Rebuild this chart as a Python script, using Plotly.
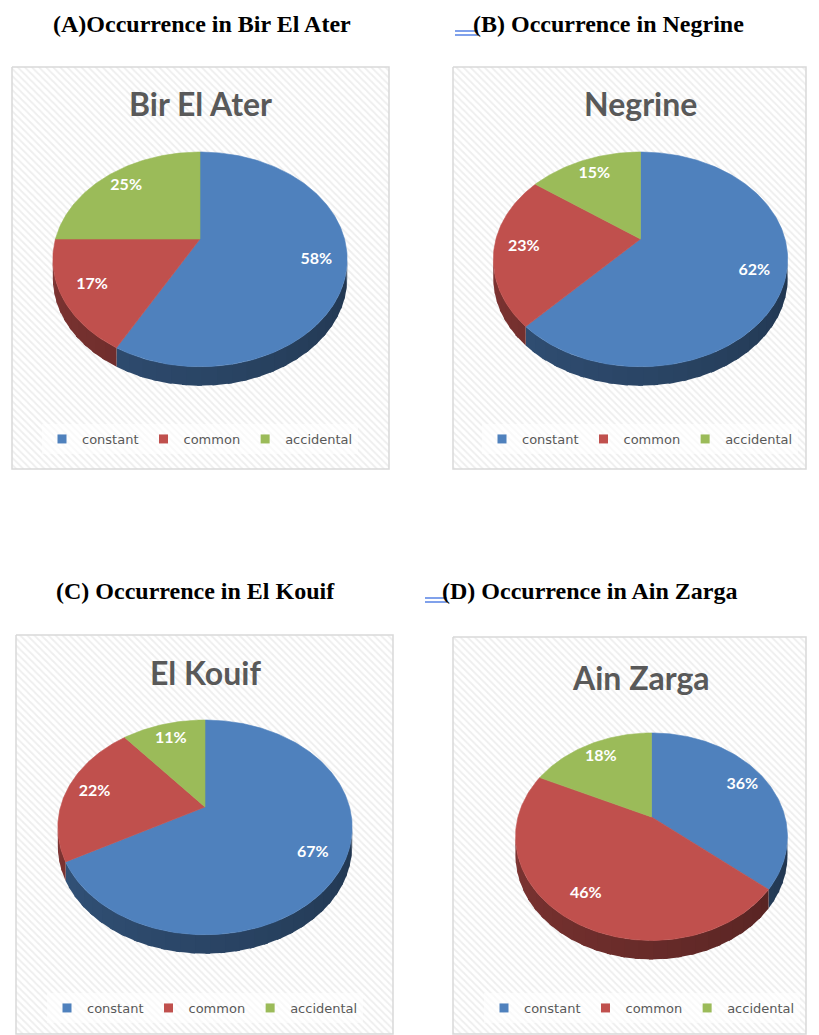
import numpy as np
import plotly.graph_objects as go

# ---------------- data ----------------
categories = ["constant", "common", "accidental"]
sites = ["Bir El Ater", "Negrine", "El Kouif", "Ain Zarga"]
headings = [
    "(A)Occurrence in Bir El Ater",
    "(B) Occurrence in Negrine",
    "(C) Occurrence in El Kouif",
    "(D) Occurrence in Ain Zarga",
]
bir_el_ater = [58, 17, 25]
negrine = [62, 23, 15]
el_kouif = [67, 22, 11]
ain_zarga = [36, 46, 18]
colors = ["#4F81BD", "#C0504D", "#9BBB59"]

# ---------------- layout constants ----------------
W, H = 819, 1035
K = 0.19          # perspective factor of the tilted pie
DEPTH = 19        # thickness of the 3D pie
LABEL_R = 0.8     # relative radius of percentage labels

panels = [
    dict(values=bir_el_ater, box=(12, 67, 389, 469), head=(202, 24), title=(200, 103),
         pie=(200, 239, 144.5, 103.5), legend=(200, 439), under=None),
    dict(values=negrine, box=(453, 67, 806, 469), head=(608, 24), title=(640, 103),
         pie=(640.5, 239, 144.5, 103.5), legend=(640, 439), under=(455, 478, 31, 35)),
    dict(values=el_kouif, box=(16, 635, 393, 1034), head=(195, 591), title=(205, 672),
         pie=(205, 807, 144.5, 103.5), legend=(205, 1008), under=None),
    dict(values=ain_zarga, box=(453, 637, 806, 1034), head=(590, 591), title=(641, 677),
         pie=(651.5, 817, 133.5, 100), legend=(642, 1008), under=(425, 447, 598, 602)),
]


def proj(cx, cy, A, B, u, v):
    d = 1 + K * v
    return cx + A * u / d, cy - B * v / d


def shade(hexc, f):
    r, g, b = int(hexc[1:3], 16), int(hexc[3:5], 16), int(hexc[5:7], 16)
    return f"rgb({int(r * f)},{int(g * f)},{int(b * f)})"


fig = go.Figure()
shapes = []
annotations = []

th_right = np.degrees(np.arccos(-K))      # silhouette angles (clockwise from top)
th_left = 360 - th_right

for i, p in enumerate(panels):
    x0, y0, x1, y1 = p["box"]
    # hatched panel background
    fig.add_trace(go.Scatter(
        x=[x0, x1, x1, x0, x0], y=[y0, y0, y1, y1, y0], mode="lines", fill="toself",
        fillcolor="white", line=dict(color="#d9d9d9", width=1.5),
        fillpattern=dict(shape="\\", fgcolor="#dedede", bgcolor="white", size=5, solidity=0.35),
        hoverinfo="skip", showlegend=False))

    cx, cy, A, B = p["pie"]
    vals = np.array(p["values"], dtype=float)
    frac = vals / vals.sum()
    starts = np.concatenate([[0], np.cumsum(frac)[:-1]]) * 360
    ends = np.cumsum(frac) * 360

    # side walls (front part only), with gradient
    for j in range(len(vals)):
        a = max(starts[j], th_right)
        b = min(ends[j], th_left)
        if b <= a:
            continue
        nseg = max(1, int(np.ceil((b - a) / 5)))
        edges = np.linspace(a, b, nseg + 1)
        for s in range(nseg):
            hi = min(edges[s + 1] + 1.5, b)
            t = np.radians(np.linspace(edges[s], hi, 5))
            xt, yt = proj(cx, cy, A, B, np.sin(t), np.cos(t))
            xs = np.concatenate([xt, xt[::-1], xt[:1]])
            ys = np.concatenate([yt, yt[::-1] + DEPTH, yt[:1]])
            mid = 0.5 * (edges[s] + edges[s + 1])
            f = 0.42 + 0.24 * (mid - th_right) / (th_left - th_right)
            c = shade(colors[j], f)
            fig.add_trace(go.Scatter(x=xs, y=ys, mode="lines", fill="toself", fillcolor=c,
                                     line=dict(width=0), hoverinfo="skip",
                                     showlegend=False))

    # top faces
    for j in range(len(vals)):
        t = np.radians(np.linspace(starts[j], ends[j], max(3, int(ends[j] - starts[j]) + 2)))
        xt, yt = proj(cx, cy, A, B, np.sin(t), np.cos(t))
        xs = np.concatenate([[cx], xt, [cx]])
        ys = np.concatenate([[cy], yt, [cy]])
        fig.add_trace(go.Scatter(x=xs, y=ys, mode="lines", fill="toself", fillcolor=colors[j],
                                 line=dict(color=colors[j], width=0.6), name=categories[j],
                                 hoverinfo="skip", showlegend=False))

    # percentage labels
    mids = np.radians(0.5 * (starts + ends))
    lx, ly = proj(cx, cy, A, B, LABEL_R * np.sin(mids), LABEL_R * np.cos(mids))
    fig.add_trace(go.Scatter(x=lx, y=ly, mode="text", text=[f"{int(v)}%" for v in vals],
                             textfont=dict(family="Lato", size=16, color="white", weight="bold"),
                             hoverinfo="skip", showlegend=False))

    # legend entries
    lg = "legend" if i == 0 else f"legend{i + 1}"
    for j, cat in enumerate(categories):
        fig.add_trace(go.Scatter(x=[None], y=[None], mode="markers", name=cat,
                                 marker=dict(symbol="square", size=9, color=colors[j]),
                                 legend=lg, showlegend=True))

    # title inside panel
    annotations.append(dict(x=p["title"][0], y=p["title"][1], xref="x", yref="y",
                            text=f"<b>{sites[i]}</b>", showarrow=False,
                            font=dict(family="Lato", size=32, color="#595959"),
                            xanchor="center", yanchor="middle"))
    # heading above panel
    annotations.append(dict(x=p["head"][0], y=p["head"][1], xref="x", yref="y",
                            text=f"<b>{headings[i]}</b>", showarrow=False,
                            font=dict(family="Liberation Serif", size=24, color="black"),
                            xanchor="center", yanchor="middle"))
    if p["under"] is not None:
        ux0, ux1, uy0, uy1 = p["under"]
        for uy in (uy0, uy1):
            shapes.append(dict(type="line", xref="x", yref="y", x0=ux0, x1=ux1, y0=uy, y1=uy,
                               line=dict(color="#3b6fe0", width=1.3)))

legend_common = dict(orientation="h", xanchor="center", yanchor="middle",
                     font=dict(family="DejaVu Sans", size=13, color="#595959"),
                     bgcolor="rgba(255,255,255,0.6)", borderwidth=0, itemwidth=30,
                     itemclick=False, itemdoubleclick=False)
legends = {}
for i, p in enumerate(panels):
    key = "legend" if i == 0 else f"legend{i + 1}"
    legends[key] = dict(legend_common, x=p["legend"][0] / W, y=1 - p["legend"][1] / H)

fig.update_layout(
    width=W, height=H, margin=dict(l=0, r=0, t=0, b=0),
    paper_bgcolor="white", plot_bgcolor="white",
    xaxis=dict(range=[0, W], visible=False, fixedrange=True),
    yaxis=dict(range=[H, 0], visible=False, fixedrange=True),
    shapes=shapes, annotations=annotations,
    **legends,
)

fig.write_html("out.html", config={"displayModeBar": False},
               post_script="document.body.style.margin='0';")
